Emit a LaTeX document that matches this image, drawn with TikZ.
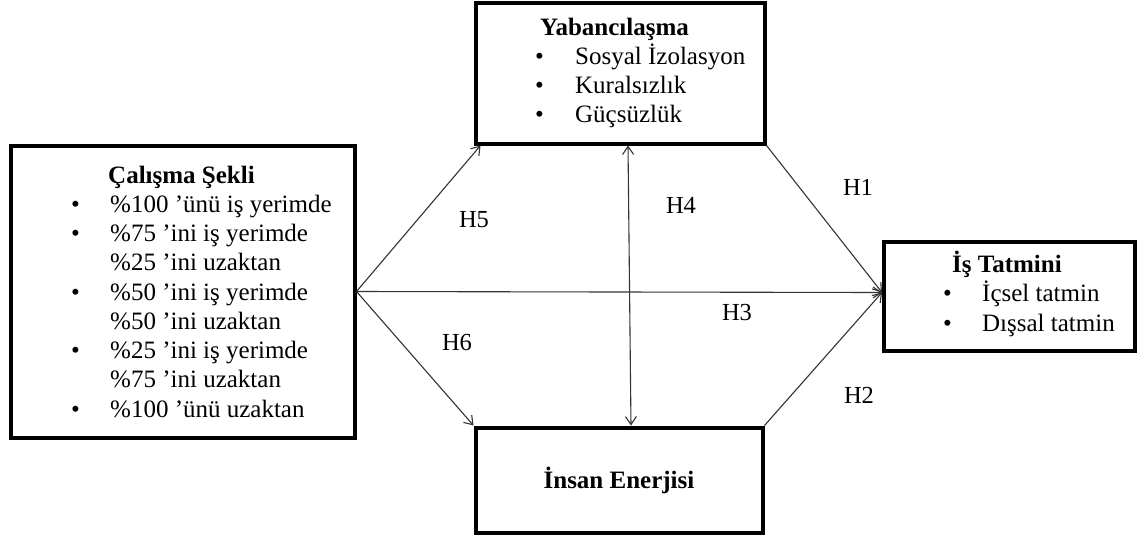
\documentclass[tikz,border=0pt]{standalone}
\usepackage{fontspec}
\setmainfont{Liberation Serif}
\usetikzlibrary{arrows.meta,positioning}

\newcommand{\itm}[1]{\makebox[#1][l]{\textbullet}}

\tikzset{
  box/.style={draw, line width=4pt, inner sep=0pt},
  % base = baseline of the last line
  boxtext/.style={align=left, anchor=base west, inner sep=0pt,
    font=\fontsize{25}{29.25}\selectfont,
    execute at begin node={\setlength{\lineskiplimit}{-100pt}}},
  hyp/.style={font=\fontsize{24.5}{29}\selectfont, inner sep=0pt},
  link/.style={draw=black!80, line width=1.1pt, -{Straight Barb[length=8pt,width=11pt]}},
}

\begin{document}
\begin{tikzpicture}[x=1pt,y=-1pt]
  \useasboundingbox (0,0) rectangle (1140,539);
  % the four boxes
  \node[box, minimum width=344pt, minimum height=292pt] (calisma) at (182.5,291.5) {};
  \node[box, minimum width=289pt, minimum height=141pt] (yabanci) at (620,73) {};
  \node[box, minimum width=251pt, minimum height=109pt] (tatmin) at (1009.5,296.5) {};
  \node[box, minimum width=287pt, minimum height=105pt,
    font=\fontsize{25}{29}\selectfont\bfseries] (enerji) at (619,480) {İnsan Enerjisi};
  % what the boxes hold
  \node[boxtext] (calismaList) at (71,417) {\hspace*{37pt}\textbf{Çalışma Şekli}\\
    \itm{39pt}\%100 ’ünü iş yerimde\\
    \itm{39pt}\%75 ’ini iş yerimde\\
    \hspace*{39pt}\%25 ’ini uzaktan\\
    \itm{39pt}\%50 ’ini iş yerimde\\
    \hspace*{39pt}\%50 ’ini uzaktan\\
    \itm{39pt}\%25 ’ini iş yerimde\\
    \hspace*{39pt}\%75 ’ini uzaktan\\
    \itm{39pt}\%100 ’ünü uzaktan};
  \node[boxtext] (yabanciList) at (535,122.75) {\hspace*{5pt}\textbf{Yabancılaşma}\\
    \itm{40pt}Sosyal İzolasyon\\
    \itm{40pt}Kuralsızlık\\
    \itm{40pt}Güçsüzlük};
  \node[boxtext] (tatminList) at (943,331) {\hspace*{9pt}\textbf{İş Tatmini}\\
    \itm{39pt}İçsel tatmin\\
    \itm{39pt}Dışsal tatmin};
  % hypotheses
  \draw[link] (calisma.east) -- ([xshift=7pt]yabanci.south west);
  \draw[link] (calisma.east) -- (enerji.north west);
  \draw[link] (calisma.east) -- ([yshift=4pt]tatmin.west);
  \draw[link] (yabanci.south east) -- ([yshift=4pt]tatmin.west);
  \draw[link] (enerji.north east) -- ([yshift=4pt]tatmin.west);
  \draw[link, {Straight Barb[length=8pt,width=11pt]}-{Straight Barb[length=8pt,width=11pt]}]
    ([xshift=8pt]yabanci.south) -- ([xshift=12pt]enerji.north);
  \node[hyp] (h1) at (858,187) {H1};
  \node[hyp] (h2) at (859,395) {H2};
  \node[hyp] (h3) at (737,313) {H3};
  \node[hyp] (h4) at (681,205) {H4};
  \node[hyp] (h5) at (474,220) {H5};
  \node[hyp] (h6) at (457,343) {H6};
\end{tikzpicture}
\end{document}
